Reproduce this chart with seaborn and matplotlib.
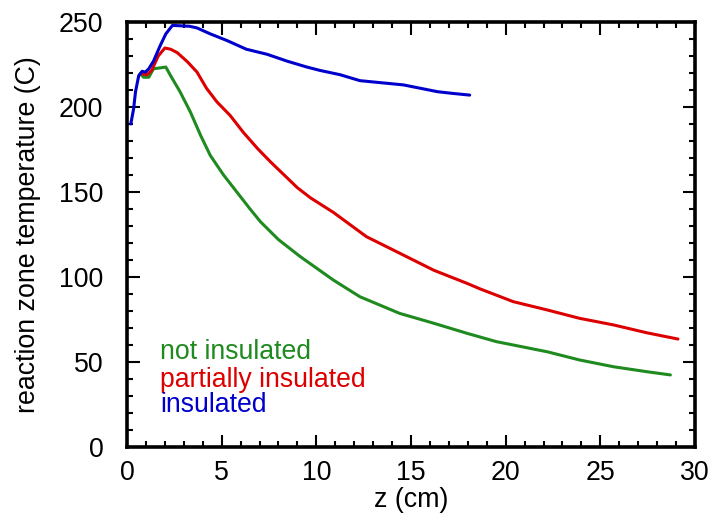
import matplotlib
matplotlib.use("Agg")
import matplotlib.pyplot as plt
from matplotlib.ticker import MultipleLocator
import seaborn as sns
import pandas as pd

series_names = ["not insulated", "partially insulated", "insulated"]
colors = ["#1f8a1f", "#dd0000", "#0000cc"]

z_not = [0.7, 0.88, 1.15, 1.4, 1.75, 2.05, 2.3, 2.8, 3.35, 3.9, 4.4, 5.1, 5.8, 6.5, 7.05,
         8.0, 9.15, 10.9, 12.3, 14.4, 16.2, 17.95, 19.5, 20.4, 22.2, 23.9, 25.7, 27.45, 28.7]
t_not = [219.5, 217.5, 217.5, 222.5, 223, 223.5, 218.5, 209, 197, 183, 171.5, 160, 150, 140, 132.5,
         122, 112, 98.2, 88.4, 78.6, 72.8, 66.9, 62, 60, 56, 51.2, 47.2, 44.3, 42.4]

z_part = [0.75, 1.05, 1.3, 1.65, 2.0, 2.3, 2.65, 3.2, 3.7, 4.2, 4.75, 5.45, 6.15, 6.9, 7.6,
          8.3, 9.0, 9.7, 10.9, 12.65, 14.4, 16.2, 17.95, 18.65, 20.4, 22.2, 23.9, 25.7, 27.45, 29.1]
t_part = [219.5, 219, 221.5, 230, 234.7, 234, 232, 226.5, 220.5, 211, 203, 195, 185, 175.5, 167.5,
          160, 152.5, 146.5, 138, 123.7, 114, 104, 96.3, 93, 85.5, 80.6, 75.7, 71.8, 67.2, 63.5]

z_ins = [0.2, 0.35, 0.45, 0.62, 0.8, 0.97, 1.15, 1.4, 1.75, 2.05, 2.4, 3.3, 3.7, 4.4, 5.3, 6.3,
         7.4, 8.45, 9.5, 10.2, 11.25, 12.3, 13.4, 14.6, 15.5, 16.4, 17.2, 18.1]
t_ins = [190, 199, 209, 218.5, 221, 220.5, 222.5, 227, 236, 243, 248, 247.5, 246.5, 243, 239, 234,
         231, 227, 223.5, 221.5, 219, 215.5, 214.3, 213, 211, 209, 208, 207]

x_ticks = [0, 5, 10, 15, 20, 25, 30]
y_ticks = [0, 50, 100, 150, 200, 250]

frames = []
for name, zs, ts in [(series_names[0], z_not, t_not),
                     (series_names[1], z_part, t_part),
                     (series_names[2], z_ins, t_ins)]:
    frames.append(pd.DataFrame({"z": zs, "T": ts, "series": name}))
df = pd.concat(frames, ignore_index=True)

sns.set_theme(style="white")
plt.rcParams["font.family"] = ["Liberation Sans", "DejaVu Sans"]
plt.rcParams["text.color"] = "black"
plt.rcParams["axes.labelcolor"] = "black"
plt.rcParams["xtick.color"] = "black"
plt.rcParams["ytick.color"] = "black"

fig = plt.figure(figsize=(7.11, 5.17), dpi=100)
ax = fig.add_axes([127/711, 1-447/517, (695-127)/711, (447-22)/517])

sns.lineplot(data=df, x="z", y="T", hue="series", hue_order=series_names,
             palette=dict(zip(series_names, colors)), estimator=None, sort=False,
             linewidth=2.2, legend=False, ax=ax)

ax.set_xlim(0, 30)
ax.set_ylim(0, 250)
ax.set_xticks(x_ticks)
ax.set_yticks(y_ticks)
ax.xaxis.set_minor_locator(MultipleLocator(1))
ax.yaxis.set_minor_locator(MultipleLocator(10))
ax.tick_params(which="both", direction="in", top=True, right=True, bottom=True, left=True,
               color="black", labelcolor="black", width=1.5)
ax.tick_params(which="major", length=9, labelsize=19.3)
ax.tick_params(which="minor", length=4.5)
ax.tick_params(axis="x", which="major", pad=9)
ax.tick_params(axis="y", which="major", pad=17)
for s in ax.spines.values():
    s.set_visible(True)
    s.set_color("black")
    s.set_linewidth(2.6)

ax.set_xlabel("z (cm)", fontsize=19.3, labelpad=1)
ax.set_ylabel("reaction zone temperature (C)", fontsize=19.3, labelpad=13)

ys = [0.2235, 0.158, 0.099]
for name, c, yy in zip(series_names, colors, ys):
    ax.text(0.058, yy, name, color=c, fontsize=19.2, transform=ax.transAxes, va="center", ha="left")

fig.savefig("out.png", dpi=100)
